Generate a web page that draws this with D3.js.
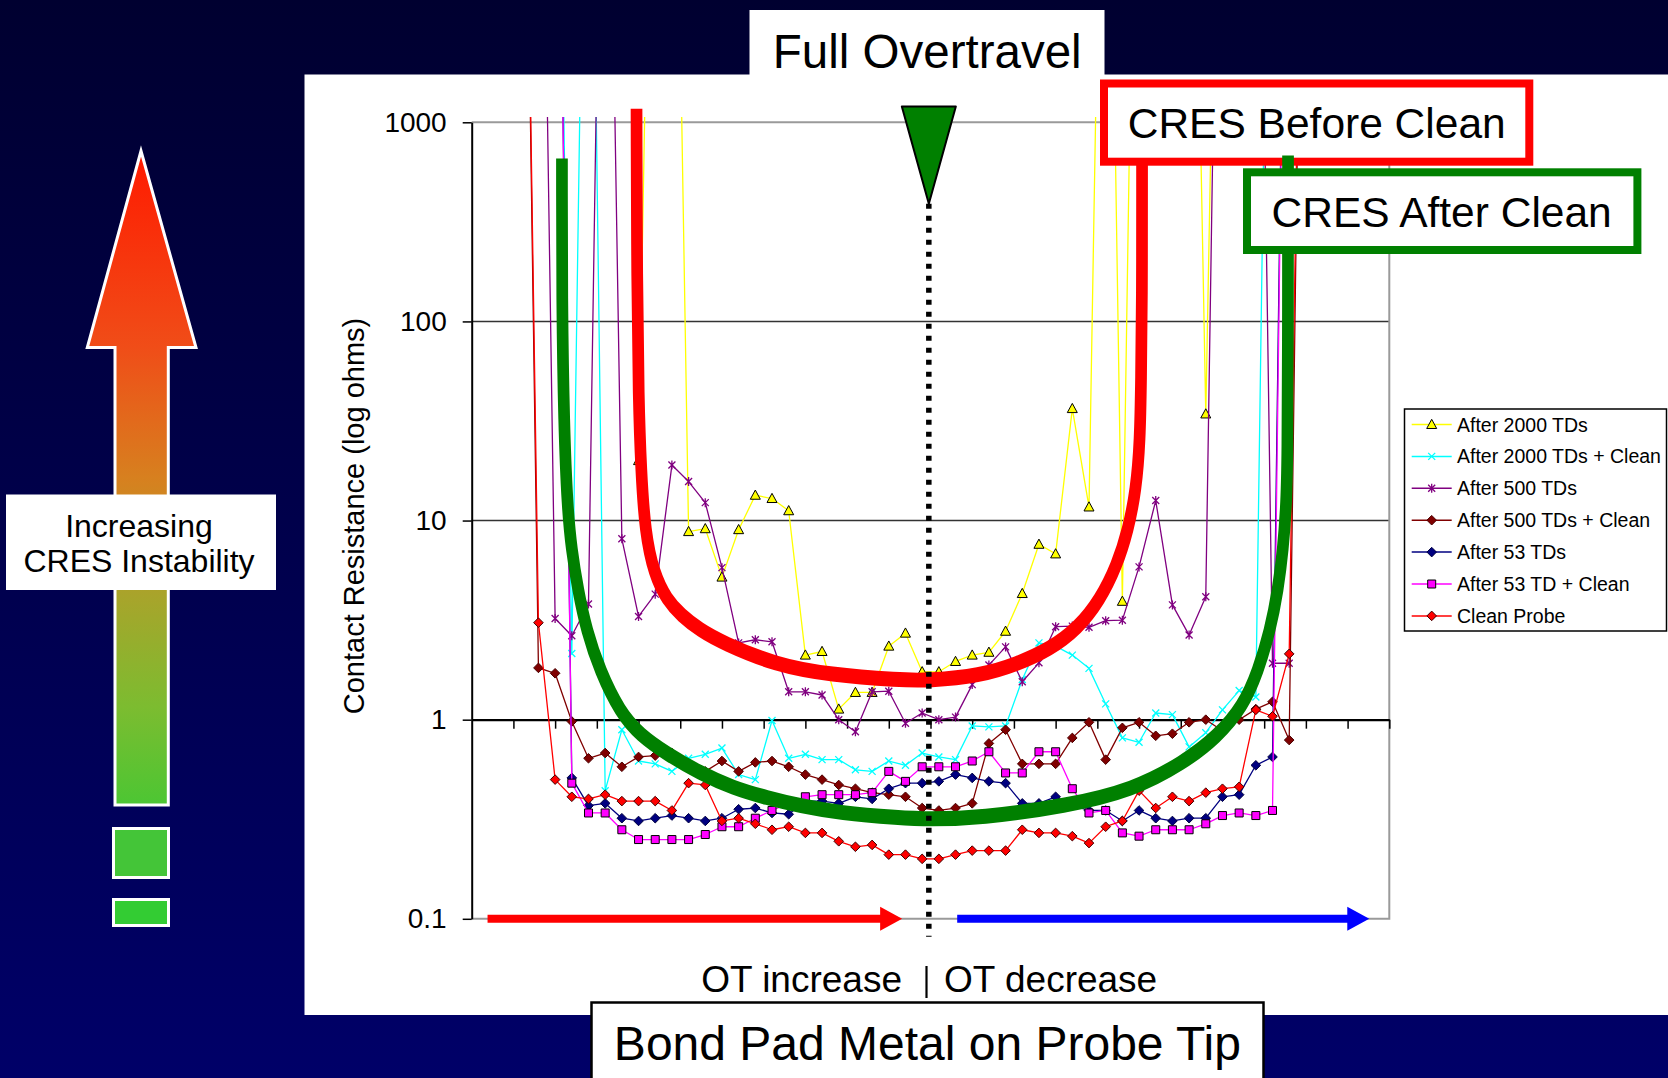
<!DOCTYPE html>
<html>
<head>
<meta charset="utf-8">
<script src="https://cdn.jsdelivr.net/npm/d3@7"></script>
<style>
  html, body { margin: 0; padding: 0; background: #000040; }
  svg { display: block; font-family: "Liberation Sans", Arial, sans-serif; }
</style>
</head>
<body>
<svg id="chart" width="1668" height="1078"></svg>
<script>
// ---- data -------------------------------------------------------------
// Contact resistance (ohms) per overtravel step. Entry 0 is step 3, the
// last entry is step 50. OPEN marks an open-contact reading far above scale,
// null marks a step with no reading.
const OPEN = 1e6;
const firstStep = 3;

const after2000TDs = [
  null, null, null, null, null, null, null, 20,
  OPEN, OPEN, 8.8, 9.1, 5.2, 9.0, 13.4, 12.9,
  11.2, 2.11, 2.2, 1.13, 1.37, 1.37, 2.34, 2.72,
  1.74, 1.74, 1.96, 2.11, 2.18, 2.78, 4.3, 7.6,
  6.8, 36.5, 11.7, OPEN, 3.93, OPEN, OPEN, OPEN,
  OPEN, 34.3, OPEN, null, null, null, null, null
];
const after2000TDsClean = [
  null, OPEN, OPEN, 2.15, OPEN, 0.44, 0.89, 0.62,
  0.60, 0.55, 0.64, 0.67, 0.72, 0.53, 0.50, 0.99,
  0.64, 0.67, 0.63, 0.63, 0.56, 0.55, 0.62, 0.59,
  0.68, 0.65, 0.63, 0.93, 0.92, 0.93, 1.59, 2.43,
  2.34, 2.11, 1.81, 1.20, 0.81, 0.77, 1.08, 1.06,
  0.73, 0.86, 1.12, 1.40, 1.30, OPEN, null, null
];
const after500TDs = [
  null, OPEN, 3.22, 2.64, 3.81, OPEN, 8.1, 3.3,
  4.27, 19.0, 15.7, 12.3, 5.8, 2.43, 2.52, 2.46,
  1.38, 1.38, 1.33, 1.0, 0.87, 1.38, 1.39, 0.96,
  1.08, 1.0, 1.03, 1.5, 1.88, 2.32, 1.55, 1.93,
  2.93, 2.95, 2.91, 3.14, 3.16, 5.85, 12.6, 3.77,
  2.66, 4.14, OPEN, OPEN, OPEN, 1.92, 1.92, null
];
const after500TDsClean = [
  OPEN, 1.82, 1.71, 0.98, 0.64, 0.68, 0.58, 0.65,
  0.66, 0.68, 0.60, 0.55, 0.62, 0.55, 0.61, 0.62,
  0.58, 0.53, 0.50, 0.47, 0.45, 0.43, 0.42, 0.41,
  0.36, 0.35, 0.36, 0.38, 0.76, 0.89, 0.60, 0.60,
  0.60, 0.81, 0.97, 0.63, 0.91, 0.97, 0.83, 0.85,
  0.97, 1.0, 0.88, 1.0, 1.13, 1.23, 0.79, OPEN
];
const after53TDs = [
  null, null, OPEN, 0.51, 0.37, 0.38, 0.32, 0.31,
  0.32, 0.33, 0.32, 0.31, 0.32, 0.355, 0.36, 0.34,
  0.335, 0.39, 0.39, 0.38, 0.41, 0.40, 0.45, 0.48,
  0.48, 0.49, 0.53, 0.51, 0.49, 0.48, 0.38, 0.38,
  0.41, 0.37, 0.35, 0.35, 0.31, 0.35, 0.32, 0.31,
  0.32, 0.32, 0.41, 0.42, 0.59, 0.65, OPEN, null
];
const after53TDClean = [
  null, null, OPEN, 0.48, 0.34, 0.34, 0.28, 0.25,
  0.25, 0.25, 0.25, 0.265, 0.29, 0.29, 0.32, 0.35,
  0.38, 0.41, 0.42, 0.42, 0.42, 0.43, 0.55, 0.49,
  0.58, 0.58, 0.58, 0.62, 0.69, 0.54, 0.54, 0.69,
  0.69, 0.45, 0.34, 0.35, 0.27, 0.26, 0.28, 0.28,
  0.28, 0.30, 0.33, 0.34, 0.33, 0.35, OPEN, null
];
const cleanProbe = [
  OPEN, 3.07, 0.50, 0.41, 0.40, 0.42, 0.39, 0.39,
  0.39, 0.35, 0.48, 0.47, 0.31, 0.32, 0.30, 0.28,
  0.29, 0.27, 0.27, 0.245, 0.23, 0.235, 0.21, 0.21,
  0.20, 0.20, 0.21, 0.22, 0.22, 0.22, 0.28, 0.27,
  0.27, 0.26, 0.24, 0.29, 0.31, 0.44, 0.36, 0.41,
  0.39, 0.43, 0.45, 0.46, 1.12, 1.04, 2.14, OPEN
];

const seriesNames = [
  "After 2000 TDs", "After 2000 TDs + Clean", "After 500 TDs",
  "After 500 TDs + Clean", "After 53 TDs", "After 53 TD + Clean", "Clean Probe"
];
const seriesValues = [
  after2000TDs, after2000TDsClean, after500TDs,
  after500TDsClean, after53TDs, after53TDClean, cleanProbe
];

const yTickValues = [0.1, 1, 10, 100, 1000];
const xStepCount = 55;
const xTickEvery = 2.5;

// Hand-drawn envelopes, as [step, ohms] pairs.
const beforeCleanEnvelope = [
  [9.88, 1170], [9.88, 1000], [9.91, 161], [10.0, 40.2], [10.15, 17.9], [10.39, 8.74],
  [10.93, 5.38], [11.71, 3.99], [12.55, 3.35], [13.68, 2.82], [15.06, 2.43],
  [18.24, 1.88], [21.48, 1.68], [25.67, 1.58], [27.35, 1.57], [30.47, 1.66],
  [32.68, 1.90], [34.66, 2.26], [36.34, 2.88], [37.66, 3.99], [38.68, 5.97],
  [39.34, 8.95], [39.82, 14.2], [40.06, 25.3], [40.12, 50.6], [40.18, 127.6],
  [40.18, 560], [40.18, 636]
];
const afterCleanEnvelope = [
  [5.41, 658], [5.41, 560], [5.41, 127.6], [5.53, 29.8], [5.74, 11.5], [5.98, 7.19],
  [6.37, 4.48], [6.89, 2.79], [7.69, 1.76], [8.89, 1.09], [10.09, 0.838],
  [11.71, 0.673], [13.68, 0.540], [15.66, 0.454], [17.70, 0.405], [19.68, 0.369],
  [22.07, 0.340], [25.67, 0.321], [27.35, 0.316], [30.47, 0.321], [35.68, 0.369],
  [39.64, 0.444], [42.64, 0.606], [44.68, 0.819], [46.24, 1.17], [47.14, 1.76],
  [47.85, 2.79], [48.33, 4.48], [48.63, 7.19], [48.81, 11.5], [48.90, 18.5],
  [48.93, 127.6], [48.93, 580], [48.93, 681]
];
const fullOvertravelStep = 27.4;
const otIncreaseSpan = [0.95, 25.8];
const otDecreaseSpan = [29.1, 53.8];

// ---- styles -------------------------------------------------------------
const seriesStyle = [
  { color: "#FFFF00", marker: "triangle" },
  { color: "#00FFFF", marker: "cross" },
  { color: "#800080", marker: "star" },
  { color: "#800000", marker: "diamond", outline: "#4a0000" },
  { color: "#000080", marker: "diamond", outline: "#000040" },
  { color: "#FF00FF", marker: "square", outline: "#000" },
  { color: "#FF0000", marker: "diamond", outline: "#400000" }
];

const W = 1668, H = 1078;
const svg = d3.select("#chart");
const defs = svg.append("defs");

// slide background
const bgGrad = defs.append("linearGradient").attr("id", "bgGrad")
  .attr("x1", 0).attr("y1", 0).attr("x2", 0).attr("y2", 1);
bgGrad.append("stop").attr("offset", "0%").attr("stop-color", "#000030");
bgGrad.append("stop").attr("offset", "100%").attr("stop-color", "#000068");
svg.append("rect").attr("width", W).attr("height", H).attr("fill", "url(#bgGrad)");

// white chart panel and caption backing
svg.append("rect").attr("x", 304.5).attr("y", 74.5)
  .attr("width", W - 304.5).attr("height", 1015 - 74.5).attr("fill", "#fff");
svg.append("rect").attr("x", 749.5).attr("y", 10)
  .attr("width", 355).attr("height", 70).attr("fill", "#fff");

// ---- scales -------------------------------------------------------------
const x = d3.scaleLinear().domain([0, xStepCount]).range([471.7, 1389.3]);
const y = d3.scaleLog().domain([0.1, 1000]).range([918.8, 122.3]);
const [x0, x1] = x.range();

// gridlines
const grid = svg.append("g");
grid.selectAll("line.major").data([10, 100]).join("line")
  .attr("x1", x0).attr("x2", x1).attr("y1", d => y(d)).attr("y2", d => y(d))
  .attr("stroke", "#333").attr("stroke-width", 1.5);
// plot-area border (top, right, bottom)
grid.append("path")
  .attr("d", `M${x0},${y(1000)}H${x1}V${y(0.1)}H${x0}`)
  .attr("fill", "none").attr("stroke", "#9a9a9a").attr("stroke-width", 2);

// y axis
const yAxis = svg.append("g").attr("transform", `translate(${x0},0)`)
  .call(d3.axisLeft(y).tickValues(yTickValues)
    .tickFormat(d3.format("~g")).tickSizeInner(9).tickSizeOuter(0).tickPadding(16));
yAxis.select(".domain").attr("stroke", "#000").attr("stroke-width", 2);
yAxis.selectAll(".tick line").attr("stroke", "#000").attr("stroke-width", 1.5);
yAxis.selectAll(".tick text").attr("font-size", 28).attr("fill", "#000")
  .attr("font-family", "'Liberation Sans', Arial, sans-serif");

// x axis sits on the 1-ohm line
const xAxis = svg.append("g").attr("transform", `translate(0,${y(1)})`)
  .call(d3.axisBottom(x).tickValues(d3.range(xTickEvery, xStepCount + 0.01, xTickEvery))
    .tickFormat("").tickSizeInner(9).tickSizeOuter(0));
xAxis.select(".domain").attr("stroke", "#000").attr("stroke-width", 2.2);
xAxis.selectAll(".tick line").attr("stroke", "#000").attr("stroke-width", 1.5);

// axis title
svg.append("text")
  .attr("transform", `translate(364,516) rotate(-90)`)
  .attr("text-anchor", "middle").attr("font-size", 29).attr("fill", "#000")
  .text("Contact Resistance (log ohms)");

// ---- series -------------------------------------------------------------
defs.append("clipPath").attr("id", "plotClip").append("rect")
  .attr("x", x0).attr("y", 117).attr("width", x1 - x0).attr("height", y(0.1) - 117 + 1);

const plot = svg.append("g").attr("clip-path", "url(#plotClip)");
const line = d3.line().defined(d => d.v != null).x(d => x(d.s)).y(d => y(d.v));

function markerPath(kind) {
  switch (kind) {
    case "triangle": return "M0,-5.2L5,4L-5,4Z";
    case "cross": return "M-3.5,-3.5L3.5,3.5M-3.5,3.5L3.5,-3.5";
    case "star": return "M-3.5,-3.5L3.5,3.5M-3.5,3.5L3.5,-3.5M0,-4.5L0,4.5";
    case "diamond": return "M0,-4.8L4.8,0L0,4.8L-4.8,0Z";
    case "square": return "M-4,-4H4V4H-4Z";
  }
}
function styleMarker(sel, st) {
  if (st.marker === "cross" || st.marker === "star") {
    sel.attr("fill", "none").attr("stroke", st.color).attr("stroke-width", 1.3);
  } else {
    sel.attr("fill", st.color)
      .attr("stroke", st.marker === "triangle" ? "#000" : st.outline)
      .attr("stroke-width", 1);
  }
}

seriesValues.forEach((vals, si) => {
  const st = seriesStyle[si];
  const pts = vals.map((v, j) => ({ s: firstStep + j, v }));
  const g = plot.append("g");
  g.append("path").datum(pts).attr("d", line)
    .attr("fill", "none").attr("stroke", st.color).attr("stroke-width", 1.3)
    .attr("stroke-linejoin", "round");
  g.selectAll("path.m").data(pts.filter(d => d.v != null && d.v <= 1000)).join("path")
    .attr("class", "m")
    .attr("transform", d => `translate(${x(d.s)},${y(d.v)})`)
    .attr("d", markerPath(st.marker))
    .call(styleMarker, st);
});

// ---- legend -------------------------------------------------------------
const legend = svg.append("g");
legend.append("rect").attr("x", 1404.5).attr("y", 409).attr("width", 262).attr("height", 222)
  .attr("fill", "#fff").attr("stroke", "#000").attr("stroke-width", 1.5);
seriesNames.forEach((name, i) => {
  const st = seriesStyle[i];
  const ry = 424.5 + i * 31.9;
  legend.append("line").attr("x1", 1411.7).attr("x2", 1451.7).attr("y1", ry).attr("y2", ry)
    .attr("stroke", st.color).attr("stroke-width", 1.5);
  legend.append("path").attr("transform", `translate(1431.7,${ry})`)
    .attr("d", markerPath(st.marker)).call(styleMarker, st);
  legend.append("text").attr("x", 1457).attr("y", ry + 7)
    .attr("font-size", 19.5).attr("fill", "#000").text(name);
});

// ---- overtravel direction arrows on the 0.1 line ------------------------
function flatArrow(span, color) {
  const ya = y(0.1), xs = x(span[0]), xe = x(span[1]);
  const head = 22, shaft = 4, wing = 12;
  svg.append("path")
    .attr("d", `M${xs},${ya - shaft}H${xe - head}V${ya - wing}L${xe},${ya}L${xe - head},${ya + wing}V${ya + shaft}H${xs}Z`)
    .attr("fill", color);
}
flatArrow(otIncreaseSpan, "#FF0000");
flatArrow(otDecreaseSpan, "#0000FF");

// ---- envelopes ---------------------------------------------------------
// The envelopes are drawn in a vertically stretched frame so the pen is
// broader on the flat bottoms than on the upright arms.
const squash = 1.28;
const envLine = d3.line().x(d => x(d[0])).y(d => y(d[1]) / squash)
  .curve(d3.curveBasis);

svg.append("g").attr("transform", `scale(1,${squash})`)
  .append("path").datum(beforeCleanEnvelope).attr("d", envLine)
  .attr("fill", "none").attr("stroke", "#FF0000").attr("stroke-width", 11.7);

// "CRES Before Clean" box
svg.append("rect").attr("x", 1104).attr("y", 83.5).attr("width", 425.3).attr("height", 78.2)
  .attr("fill", "#fff").attr("stroke", "#FF0000").attr("stroke-width", 8);
svg.append("text").attr("x", 1316.7).attr("y", 138).attr("text-anchor", "middle")
  .attr("font-size", 42.5).attr("fill", "#000").text("CRES Before Clean");

svg.append("g").attr("transform", `scale(1,${squash})`)
  .append("path").datum(afterCleanEnvelope).attr("d", envLine)
  .attr("fill", "none").attr("stroke", "#008000").attr("stroke-width", 11.7);

// "CRES After Clean" box
svg.append("rect").attr("x", 1247).attr("y", 172.3).attr("width", 390.4).attr("height", 77.7)
  .attr("fill", "#fff").attr("stroke", "#008000").attr("stroke-width", 8);
svg.append("text").attr("x", 1441.7).attr("y", 226.7).attr("text-anchor", "middle")
  .attr("font-size", 42.5).attr("fill", "#000").text("CRES After Clean");

// ---- full overtravel marker --------------------------------------------
const xo = x(fullOvertravelStep);
svg.append("line").attr("x1", xo).attr("x2", xo).attr("y1", y(390)).attr("y2", y(0.1) + 18)
  .attr("stroke", "#000").attr("stroke-width", 5.5).attr("stroke-dasharray", "5 7");
svg.append("path")
  .attr("d", `M${xo - 27},${y(1200)}H${xo + 27}L${xo},${y(390)}Z`)
  .attr("fill", "#008000").attr("stroke", "#000").attr("stroke-width", 2).attr("stroke-linejoin", "round");
svg.append("text").attr("x", 927.2).attr("y", 68).attr("text-anchor", "middle")
  .attr("font-size", 47.5).attr("fill", "#000").text("Full Overtravel");

// ---- x direction caption -----------------------------------------------
svg.append("text").attr("x", 902).attr("y", 991.5).attr("text-anchor", "end")
  .attr("font-size", 37).attr("fill", "#000").text("OT increase");
svg.append("line").attr("x1", 926.5).attr("x2", 926.5).attr("y1", 966).attr("y2", 998)
  .attr("stroke", "#000").attr("stroke-width", 2.2);
svg.append("text").attr("x", 944).attr("y", 991.5).attr("text-anchor", "start")
  .attr("font-size", 37).attr("fill", "#000").text("OT decrease");

// "Bond Pad Metal on Probe Tip" box
svg.append("rect").attr("x", 591.5).attr("y", 1002.5).attr("width", 672).attr("height", 90)
  .attr("fill", "#fff").attr("stroke", "#000").attr("stroke-width", 2.5);
svg.append("text").attr("x", 927.4).attr("y", 1059.5).attr("text-anchor", "middle")
  .attr("font-size", 48).attr("fill", "#000").text("Bond Pad Metal on Probe Tip");

// ---- instability arrow -------------------------------------------------
const arrowGrad = defs.append("linearGradient").attr("id", "arrowGrad")
  .attr("gradientUnits", "userSpaceOnUse").attr("x1", 0).attr("y1", 151).attr("x2", 0).attr("y2", 805);
[["0", "#FF1A00"], ["0.3", "#F04D18"], ["0.5", "#D7801F"], ["0.68", "#A8A42B"],
 ["0.85", "#7CBC30"], ["1", "#4CC633"]].forEach(([o, c]) =>
  arrowGrad.append("stop").attr("offset", o).attr("stop-color", c));

svg.append("path")
  .attr("d", "M141,151L196,347.5H168.3V805H115V347.5H87.3Z")
  .attr("fill", "url(#arrowGrad)").attr("stroke", "#fff").attr("stroke-width", 3)
  .attr("stroke-linejoin", "miter");
svg.append("rect").attr("x", 113.5).attr("y", 828.5).attr("width", 55).attr("height", 49)
  .attr("fill", "#44C538").attr("stroke", "#fff").attr("stroke-width", 3);
svg.append("rect").attr("x", 113.5).attr("y", 899.5).attr("width", 55).attr("height", 26)
  .attr("fill", "#33CC33").attr("stroke", "#fff").attr("stroke-width", 3);

svg.append("rect").attr("x", 6).attr("y", 494.5).attr("width", 270).attr("height", 95.5).attr("fill", "#fff");
svg.append("text").attr("x", 139).attr("y", 537).attr("text-anchor", "middle")
  .attr("font-size", 32).attr("fill", "#000").text("Increasing");
svg.append("text").attr("x", 139).attr("y", 572).attr("text-anchor", "middle")
  .attr("font-size", 32).attr("fill", "#000").text("CRES Instability");
</script>
</body>
</html>
